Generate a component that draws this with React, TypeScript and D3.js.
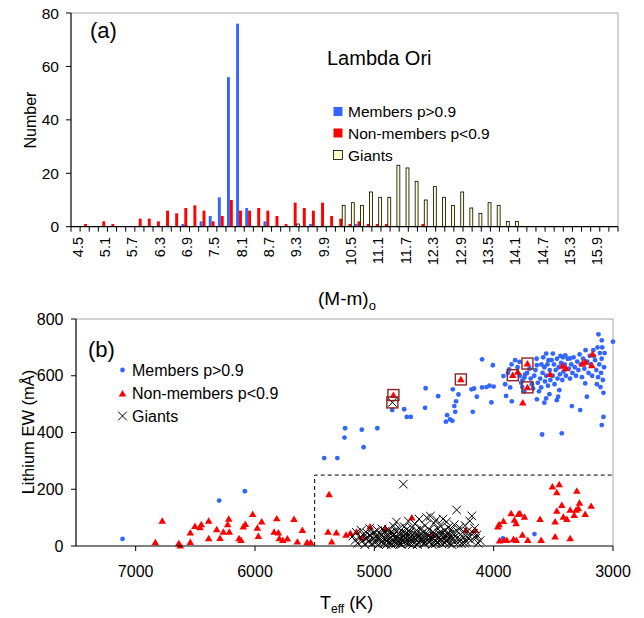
import React from "react";
import * as d3 from "d3";

// ---------- Panel (a) data ----------
const magBins = [
  "4.5","4.7","4.9","5.1","5.3","5.5","5.7","5.9","6.1","6.3",
  "6.5","6.7","6.9","7.1","7.3","7.5","7.7","7.9","8.1","8.3",
  "8.5","8.7","8.9","9.1","9.3","9.5","9.7","9.9","10.1","10.3",
  "10.5","10.7","10.9","11.1","11.3","11.5","11.7","11.9","12.1","12.3",
  "12.5","12.7","12.9","13.1","13.3","13.5","13.7","13.9","14.1","14.3",
  "14.5","14.7","14.9","15.1","15.3","15.5","15.7","15.9","16.1","16.3",
];
const magTickLabels = [
  "4.5","5.1","5.7","6.3","6.9","7.5","8.1","8.7","9.3","9.9",
  "10.5","11.1","11.7","12.3","12.9","13.5","14.1","14.7","15.3","15.9",
];
const histMembers = [
  0,0,0,0,0,0,0,0,0,0, 0,0,1,0,2,4,11,56,76,7,
  0,2,0,0,0,0,1,0,0,0, 0,1,0,0,0,0,0,0,0,0,
  0,0,0,0,0,0,0,0,0,0, 0,0,0,0,0,0,0,0,0,0,
];
const histNonMembers = [
  0,1,0,2,1,0,0,3,3,2, 6,5,7,8,6,2,4,10,6,6,
  7,6,4,1,9,7,6,9,4,3, 1,2,1,1,1,0,0,0,1,0,
  0,0,0,0,0,0,0,0,0,0, 0,0,0,0,0,0,0,0,0,0,
];
const histGiants = [
  0,0,0,0,0,0,0,0,0,0, 0,0,0,0,0,0,0,0,0,0,
  0,0,0,0,1,0,0,0,0,8, 9,8,13,11,11,23,22,17,10,15,
  11,8,13,7,5,9,8,2,2,0, 0,0,0,0,0,0,0,0,0,0,
];
const histYTicks = [0, 20, 40, 60, 80];

// ---------- Panel (b) data: [Teff, Li EW] ----------
const membersPts: [number, number][] = [
  [7110,25],[6300,160],[6085,193],[5420,310],[5310,310],[5250,382],[5245,415],[5105,410],[5090,348],
  [4975,415],[4850,479],[4750,482],[4728,455],[4694,455],[4575,487],[4570,556],[4465,528],[4400,438],
  [4346,441],[4390,461],[4365,446],[4342,552],[4295,534],[4330,493],[4315,510],[4322,473],[4175,473],
  [4186,552],[4164,555],[4141,526],[4097,559],[4097,658],[4007,637],[4019,506],[4060,560],[4035,565],
  [4000,562],[3918,599],[3904,570],[3862,559],[3896,529],[3848,510],[3880,610],[3870,622],[3784,649],
  [3742,594],[3759,584],[3735,605],[3638,637],[3638,517],[3602,559],[3560,678],[3541,655],[3533,535],
  [3560,520],[3575,505],[3504,678],[3471,514],[3460,526],[3450,549],[3440,670],[3420,665],[3400,672],
  [3359,661],[3345,493],[3275,479],[3233,573],[3219,526],[3160,670],[3122,746],[3094,725],[3080,455],
  [3094,426],[3000,720],[3594,393],[3429,397],[3658,42],[3923,27],[3135,570],
  [3850,640],[3820,655],[3800,630],[3780,600],[3770,575],[3760,560],[3745,545],[3720,610],[3700,625],
  [3690,590],[3680,570],[3670,555],[3660,600],[3650,620],[3640,660],[3630,575],[3620,545],[3610,590],
  [3600,640],[3590,610],[3585,665],[3575,630],[3570,580],[3560,600],[3550,640],[3545,565],[3530,620],
  [3525,585],[3515,655],[3505,600],[3495,640],[3490,570],[3480,620],[3470,660],[3465,590],[3455,630],
  [3445,605],[3435,645],[3425,585],[3415,615],[3405,640],[3395,600],[3380,660],[3370,625],[3360,590],
  [3350,640],[3340,610],[3330,665],[3320,630],[3310,600],[3300,650],[3290,620],[3280,675],[3270,640],
  [3260,595],[3250,660],[3240,625],[3230,690],[3215,650],[3205,610],[3195,670],[3185,640],[3175,600],
  [3165,690],[3150,655],[3140,620],[3130,700],[3125,595],[3115,640],[3110,680],[3105,560],[3100,610],
  [3095,660],[3090,700],[3085,585],[3080,540],[3075,630],[3070,680],
];
const nonMembersPts: [number, number][] = [
  [6835,13],[6777,89],[6639,9],[6626,1],[6542,14],[6542,47],[6503,70],[6461,66],[6450,76],[6388,89],
  [6388,27],[6321,59],[6293,28],[6265,50],[6229,76],[6220,96],[6215,50],[6134,27],[6117,21],[6098,68],
  [6081,77],[6019,112],[5980,64],[5972,35],[5944,86],[5840,50],[5818,97],[5804,47],[5796,27],[5767,21],
  [5729,26],[5673,95],[5645,15],[5603,56],[5564,13],[5533,13],[5379,182],[5388,50],[5357,15],[5318,47],
  [5237,39],[5200,45],[5150,50],[5100,30],[5036,68],[4910,62],[4686,100],[4513,39],[4233,56],[4155,56],
  [3965,68],[3954,76],[3918,88],[3951,19],[3912,21],[3890,21],[3854,115],[3826,92],[3812,80],[3793,112],
  [3780,115],[3742,103],[3834,24],[3810,21],[3759,39],[3714,21],[3611,95],[3602,21],[3508,209],[3451,217],
  [3471,189],[3485,86],[3485,33],[3429,144],[3471,124],[3416,103],[3387,95],[3359,27],[3359,127],[3303,194],
  [3325,109],[3309,127],[3290,133],[3281,152],[3233,112],[3183,141],
  [4840,532],[4275,587],[3840,602],[3798,614],[3717,643],[3717,559],[3756,505],[3527,606],[3423,635],
  [3393,626],[3256,643],[3231,649],[3178,637],[3172,676],
];
const giantsPts: [number, number][] = [
  [5180,35],[5160,20],[5150,48],[5140,10],[5120,30],[5110,55],[5100,18],[5095,40],[5080,5],[5070,28],
  [5060,45],[5050,15],[5040,62],[5035,38],[5020,8],[5010,25],[5000,50],[4995,12],[4985,35],[4975,55],
  [4965,5],[4960,22],[4950,45],[4940,15],[4935,60],[4925,30],[4920,8],[4910,52],[4900,20],[4895,40],
  [4885,10],[4880,58],[4870,28],[4860,48],[4855,5],[4845,35],[4840,70],[4830,18],[4825,55],[4815,85],
  [4810,30],[4800,12],[4795,45],[4790,62],[4780,25],[4775,5],[4765,50],[4760,35],[4750,68],[4745,15],
  [4735,42],[4730,58],[4720,22],[4715,88],[4705,8],[4700,50],[4690,32],[4685,65],[4675,15],[4670,45],
  [4660,78],[4655,25],[4645,55],[4640,5],[4630,38],[4625,95],[4615,18],[4610,62],[4600,30],[4590,48],
  [4585,10],[4575,72],[4570,25],[4560,100],[4555,42],[4545,15],[4540,58],[4530,105],[4525,32],[4515,5],
  [4510,50],[4500,80],[4495,20],[4485,40],[4480,92],[4470,12],[4465,60],[4455,30],[4450,72],[4440,48],
  [4435,8],[4425,95],[4420,35],[4410,55],[4400,18],[4395,85],[4385,42],[4380,65],[4370,10],[4360,28],
  [4355,58],[4345,45],[4335,15],[4330,75],[4320,35],[4310,127],[4305,52],[4295,22],[4285,65],[4280,40],
  [4270,8],[4260,48],[4250,30],[4240,72],[4230,15],[4220,52],[4210,38],[4200,88],[4190,20],[4183,106],
  [4170,45],[4160,62],[4150,28],[4141,39],[4130,10],[4114,19],
  [4980,20],[4940,38],[4900,5],[4870,45],[4850,20],[4820,10],[4790,40],[4770,18],[4740,28],[4710,38],
  [4680,5],[4650,40],[4620,28],[4590,20],[4560,30],[4530,18],[4500,35],[4470,28],[4440,22],[4410,10],
  [4380,25],[4350,5],[5055,30],[5015,42],[4965,32],[4930,18],[4890,30],[4862,12],[4835,42],[4805,22],
  [4782,8],[4755,38],[4725,12],[4695,20],[4665,30],[4632,12],[4605,42],[4578,8],[4548,35],[4518,22],
  [4488,8],[4458,45],[4428,20],[4398,38],[4368,42],[4338,28],[4300,10],[4275,22],[4245,10],[4215,28],
  [4757,218],[4849,506],
];
// Stars flagged with boxes
const boxedPts: [number, number][] = [
  [4840,532],[4849,506],[4275,587],[3840,602],[3717,643],[3717,559],
];
const tempTicks = [7000, 6000, 5000, 4000, 3000];
const liTicks = [0, 200, 400, 600, 800];

const FONT = "'Liberation Sans', Arial, Helvetica, sans-serif";
const BLUE = "#3366ff";
const RED = "#ff0000";
const GIANT_FILL = "#ffffcc";
const FRAME = "#a6a6a6";

function triPath(x: number, y: number, s: number) {
  return `M${x},${y - s}L${x + s * 1.05},${y + s * 0.8}L${x - s * 1.05},${y + s * 0.8}Z`;
}

export default function App() {
  // ---- Panel (a) scales ----
  const ax0 = 71, ax1 = 618, ay0 = 226.7, ay1 = 13;
  const xb = d3.scaleBand<string>().domain(magBins).range([ax0, ax1]).padding(0);
  const bw = xb.bandwidth();
  const yh = d3.scaleLinear().domain([0, 80]).range([ay0, ay1]);
  const series = [
    { vals: histMembers, fill: BLUE, stroke: "none" },
    { vals: histNonMembers, fill: RED, stroke: "none" },
    { vals: histGiants, fill: GIANT_FILL, stroke: "#000" },
  ];

  // ---- Panel (b) scales ----
  const bx0 = 76, bx1 = 613, by0 = 546, by1 = 319;
  const xs = d3.scaleLinear().domain([7500, 3000]).range([bx0, bx1]);
  const ys = d3.scaleLinear().domain([0, 800]).range([by0, by1]);

  return (
    <svg width={644} height={618} style={{ position: "absolute", left: 0, top: 0, fontFamily: FONT }}>
      <rect x={0} y={0} width={644} height={618} fill="#fff" />
      {/* ================= Panel (a) ================= */}
      <line x1={ax0} y1={ay1} x2={ax1} y2={ay1} stroke={FRAME} strokeWidth={1} />
      <line x1={ax1} y1={ay1} x2={ax1} y2={ay0} stroke={FRAME} strokeWidth={1} />
      {series.map((s, si) =>
        s.vals.map((v, i) =>
          v > 0 ? (
            <rect
              key={`b${si}-${i}`}
              x={(xb(magBins[i]) as number) + bw * 0.11 + si * bw * 0.32}
              y={yh(v)}
              width={bw * 0.32}
              height={ay0 - yh(v)}
              fill={s.fill}
              stroke={s.stroke}
              strokeWidth={s.stroke === "none" ? 0 : 0.8}
            />
          ) : null
        )
      )}
      <line x1={ax0} y1={ay1} x2={ax0} y2={ay0} stroke="#000" strokeWidth={1.2} />
      <line x1={ax0} y1={ay0} x2={ax1} y2={ay0} stroke="#000" strokeWidth={1.2} />
      {histYTicks.map((t) => (
        <g key={`hy${t}`}>
          <line x1={ax0 - 5} x2={ax0} y1={yh(t)} y2={yh(t)} stroke="#000" />
          <text x={59} y={yh(t) + 5.5} fontSize={15.5} textAnchor="end">{t}</text>
        </g>
      ))}
      {magBins.map((c, i) => (
        <line key={`hx${i}`} x1={xb(c) as number} x2={xb(c) as number} y1={ay0} y2={ay0 + 5} stroke="#000" />
      ))}
      <line x1={ax1} x2={ax1} y1={ay0} y2={ay0 + 5} stroke="#000" />
      {magTickLabels.map((lab) => {
        const cx = (xb(lab) as number) + bw / 2 + 2;
        return (
          <text key={`hl${lab}`} transform={`translate(${cx},237) rotate(-90)`} fontSize={14.5} textAnchor="end" dy="0.35em">
            {lab}
          </text>
        );
      })}
      <text transform="translate(36,120) rotate(-90)" fontSize={16} textAnchor="middle">Number</text>
      <text x={318} y={305} fontSize={19}>
        (M-m)<tspan fontSize={13} dy={5}>o</tspan>
      </text>
      <text x={90} y={38} fontSize={22}>(a)</text>
      <text x={327} y={65} fontSize={20}>Lambda Ori</text>
      {[
        { lab: "Members p>0.9", fill: BLUE, stroke: "none", y: 111.5 },
        { lab: "Non-members p<0.9", fill: RED, stroke: "none", y: 133 },
        { lab: "Giants", fill: GIANT_FILL, stroke: "#000", y: 155 },
      ].map((l) => (
        <g key={l.lab}>
          <rect x={333.5} y={l.y - 4.5} width={9} height={9} fill={l.fill} stroke={l.stroke} strokeWidth={0.8} />
          <text x={348} y={l.y + 5.5} fontSize={15.5}>{l.lab}</text>
        </g>
      ))}

      {/* ================= Panel (b) ================= */}
      <line x1={bx0} y1={by1} x2={bx1} y2={by1} stroke={FRAME} strokeWidth={1} />
      <line x1={bx1} y1={by1} x2={bx1} y2={by0} stroke={FRAME} strokeWidth={1} />
      <path
        d={`M${xs(5500)},${by0}V${ys(250)}H${xs(3000)}`}
        fill="none"
        stroke="#000"
        strokeWidth={1}
        strokeDasharray="4,3"
      />
      {membersPts.map((p, i) => (
        <circle key={`m${i}`} cx={xs(p[0])} cy={ys(p[1])} r={2.4} fill={BLUE} />
      ))}
      {nonMembersPts.map((p, i) => (
        <path key={`n${i}`} d={triPath(xs(p[0]), ys(p[1]), 3.6)} fill={RED} />
      ))}
      {giantsPts.map((p, i) => {
        const x = xs(p[0]), y = ys(p[1]), s = 4.3;
        return (
          <path key={`g${i}`} d={`M${x - s},${y - s}L${x + s},${y + s}M${x - s},${y + s}L${x + s},${y - s}`} stroke="#000" strokeWidth={1} fill="none" />
        );
      })}
      {boxedPts.map((p, i) => (
        <rect key={`bx${i}`} x={xs(p[0]) - 5.5} y={ys(p[1]) - 5.5} width={11} height={11} fill="none" stroke="#8b2323" strokeWidth={1.4} />
      ))}
      <line x1={bx0} y1={by1} x2={bx0} y2={by0} stroke="#000" strokeWidth={1.2} />
      <line x1={bx0} y1={by0} x2={bx1} y2={by0} stroke="#000" strokeWidth={1.2} />
      {liTicks.map((t) => (
        <g key={`ly${t}`}>
          <line x1={bx0 - 5} x2={bx0} y1={ys(t)} y2={ys(t)} stroke="#000" />
          <text x={63.5} y={ys(t) + 5.5} fontSize={16} textAnchor="end">{t}</text>
        </g>
      ))}
      {tempTicks.map((t) => (
        <g key={`tx${t}`}>
          <line x1={xs(t)} x2={xs(t)} y1={by0} y2={by0 + 5} stroke="#000" />
          <text x={xs(t)} y={577} fontSize={16} textAnchor="middle">{t}</text>
        </g>
      ))}
      <text transform="translate(34,432) rotate(-90)" fontSize={16.5} textAnchor="middle">Lithium EW (mÅ)</text>
      <text x={320} y={609} fontSize={18}>
        T<tspan fontSize={12} dy={4}>eff</tspan>
        <tspan dy={-4} fontSize={18}> (K)</tspan>
      </text>
      <text x={88} y={357} fontSize={22}>(b)</text>
      <circle cx={122.5} cy={370} r={2.4} fill={BLUE} />
      <text x={132} y={375.5} fontSize={16}>Members p&gt;0.9</text>
      <path d={triPath(122.5, 393.5, 3.6)} fill={RED} />
      <text x={132} y={398.5} fontSize={16}>Non-members p&lt;0.9</text>
      <path d="M118.2,411.7L126.8,420.3M118.2,420.3L126.8,411.7" stroke="#000" strokeWidth={1} />
      <text x={132} y={421.5} fontSize={16}>Giants</text>
    </svg>
  );
}
